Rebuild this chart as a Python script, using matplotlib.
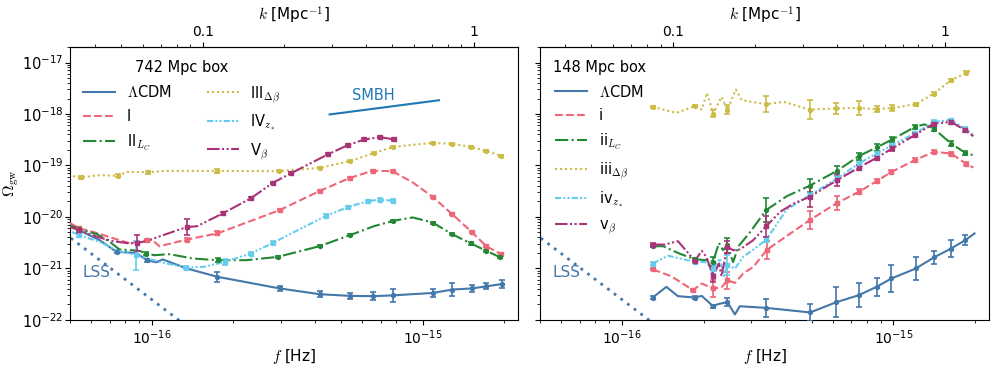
import numpy as np
import matplotlib
matplotlib.use('Agg')
import matplotlib.pyplot as plt
from matplotlib import ticker

plt.rcParams['mathtext.fontset'] = 'cm'
plt.rcParams['font.family'] = ['DejaVu Sans']

nan = np.nan

# ---------------- 742 Mpc box (left) ----------------
L_lcdm_f = [5.0e-17, 5.42e-17, 6.43e-17, 7.43e-17, 8.8e-17, 9.6e-17, 1.04e-16, 1.10e-16, 1.35e-16,
            1.75e-16, 2.97e-16, 4.17e-16, 5.38e-16, 6.54e-16, 7.75e-16, 1.09e-15, 1.29e-15, 1.52e-15,
            1.72e-15, 1.97e-15]
L_lcdm_om = [6.9e-21, 5.5e-21, 3.55e-21, 2.1e-21, 2.0e-21, 1.45e-21, 1.32e-21, 1.5e-21, 1.0e-21,
             6.9e-22, 4.1e-22, 3.17e-22, 2.94e-22, 2.9e-22, 3.0e-22, 3.35e-22, 3.9e-22, 4.1e-22,
             4.5e-22, 5.0e-22]
L_lcdm_err = [nan, 0.03, nan, 0.03, nan, 0.03, nan, nan, nan,
              0.1, 0.05, 0.06, 0.06, 0.08, 0.12, 0.08, 0.12, 0.06, 0.06, 0.08]

L_I_f = [5.0e-17, 5.42e-17, 6.32e-17, 7.18e-17, 8.3e-17, 9.6e-17, 1.01e-16, 1.07e-16, 1.35e-16,
         1.75e-16, 2.97e-16, 4.17e-16, 5.38e-16, 6.54e-16, 7.75e-16, 9.2e-16, 1.09e-15, 1.29e-15,
         1.52e-15, 1.72e-15, 1.95e-15]
L_I_om = [7.6e-21, 6.0e-21, 4.85e-21, 3.9e-21, 3.1e-21, 3.55e-21, 3.5e-21, 2.7e-21, 3.65e-21,
          4.8e-21, 1.36e-20, 3.2e-20, 5.7e-20, 7.9e-20, 7.75e-20, 4.7e-20, 2.46e-20, 1.12e-20,
          5.1e-21, 2.7e-21, 1.9e-21]
L_I_err = [nan, 0.03, nan, nan, nan, 0.03, nan, nan, 0.03,
           0.04, 0.02, 0.02, 0.02, 0.02, 0.02, nan, 0.02, 0.02, 0.02, 0.02, 0.02]

L_II_f = [5.0e-17, 5.42e-17, 6.32e-17, 7.0e-17, 7.62e-17, 8.42e-17, 9.04e-17, 9.56e-17, 1.026e-16,
          1.165e-16, 1.42e-16, 1.76e-16, 2.24e-16, 2.92e-16, 4.17e-16, 5.38e-16, 6.6e-16, 7.78e-16,
          9.2e-16, 1.09e-15, 1.29e-15, 1.51e-15, 1.72e-15, 1.94e-15]
L_II_om = [6.9e-21, 5.8e-21, 4.6e-21, 3.3e-21, 2.34e-21, 2.27e-21, 2.2e-21, 1.95e-21, 1.81e-21,
           1.9e-21, 1.56e-21, 1.45e-21, 1.45e-21, 1.68e-21, 2.71e-21, 4.4e-21, 6.6e-21, 8.4e-21,
           9.8e-21, 7.8e-21, 4.6e-21, 3.06e-21, 2.2e-21, 1.64e-21]
L_II_err = [nan, 0.02, nan, nan, nan, nan, nan, 0.03, nan,
            nan, nan, 0.04, nan, 0.02, 0.02, 0.02, nan, 0.02, nan, 0.02, 0.02, 0.02, 0.02, 0.02]

L_III_f = [5.13e-17, 5.5e-17, 6.43e-17, 7.55e-17, 8.07e-17, 9.7e-17, 1.13e-16, 1.74e-16, 2.95e-16,
           4.17e-16, 5.38e-16, 6.6e-16, 7.78e-16, 1.09e-15, 1.29e-15, 1.51e-15, 1.72e-15, 1.95e-15]
L_III_om = [6.2e-20, 5.85e-20, 6.5e-20, 6.3e-20, 7.5e-20, 7.4e-20, 7.85e-20, 7.85e-20, 7.75e-20,
            9.0e-20, 1.21e-19, 1.73e-19, 2.3e-19, 2.75e-19, 2.63e-19, 2.3e-19, 1.92e-19, 1.54e-19]
L_III_err = [nan, 0.02, nan, 0.03, nan, 0.03, nan, 0.04, 0.02,
             0.02, 0.02, 0.02, 0.02, 0.02, 0.02, 0.02, 0.02, 0.02]

L_IV_f = [5.1e-17, 5.42e-17, 6.43e-17, 7.4e-17, 8.78e-17, 9.56e-17, 1.07e-16, 1.34e-16, 1.55e-16,
          1.86e-16, 2.32e-16, 2.81e-16, 3.28e-16, 4.42e-16, 5.3e-16, 6.27e-16, 6.94e-16, 7.8e-16]
L_IV_om = [5.1e-21, 4.4e-21, 3.3e-21, 2.27e-21, 1.81e-21, 1.6e-21, 1.34e-21, 1.04e-21, 1.07e-21,
           1.34e-21, 1.95e-21, 3.14e-21, 4.8e-21, 1.06e-20, 1.55e-20, 2.03e-20, 2.17e-20, 2.07e-20]
L_IV_err = [nan, 0.03, nan, nan, 0.28, nan, nan, 0.03, nan,
            0.06, 0.03, 0.03, nan, 0.03, 0.03, 0.03, 0.03, 0.03]

L_V_f = [5.0e-17, 5.42e-17, 6.32e-17, 7.18e-17, 8.3e-17, 8.8e-17, 9.6e-17, 1.07e-16, 1.35e-16,
         1.47e-16, 1.83e-16, 2.33e-16, 2.8e-16, 3.28e-16, 4.47e-16, 5.3e-16, 6.1e-16, 6.98e-16, 7.88e-16]
L_V_om = [6.4e-21, 5.5e-21, 4.1e-21, 3.4e-21, 3.06e-21, 3.14e-21, 3.4e-21, 4.2e-21, 6.4e-21,
          6.6e-21, 1.17e-20, 2.32e-20, 4.6e-20, 7.1e-20, 1.64e-19, 2.48e-19, 3.2e-19, 3.55e-19, 3.2e-19]
L_V_err = [nan, 0.06, nan, nan, nan, 0.15, nan, nan, 0.15,
           nan, 0.03, 0.03, 0.02, 0.02, 0.02, 0.02, 0.02, 0.02, 0.02]

# ---------------- 148 Mpc box (right) ----------------
R_lcdm_f = [1.30e-16, 1.46e-16, 1.61e-16, 1.86e-16, 1.97e-16, 2.17e-16, 2.26e-16, 2.45e-16, 2.61e-16,
            2.72e-16, 3.4e-16, 4.94e-16, 5.38e-16, 6.17e-16, 7.46e-16, 8.67e-16, 9.84e-16, 1.21e-15,
            1.41e-15, 1.63e-15, 1.84e-15, 1.99e-15]
R_lcdm_om = [2.73e-22, 4.4e-22, 2.9e-22, 2.73e-22, 2.94e-22, 1.85e-22, 2.03e-22, 2.22e-22, 1.28e-22,
             1.85e-22, 1.72e-22, 1.4e-22, 1.67e-22, 2.22e-22, 3.03e-22, 4.4e-22, 6.4e-22, 1.0e-21,
             1.64e-21, 2.44e-21, 3.55e-21, 4.8e-21]
R_lcdm_err = [0.02, nan, nan, 0.02, nan, 0.03, nan, 0.08, nan,
              nan, 0.18, 0.16, nan, 0.29, 0.23, 0.17, 0.27, 0.22, 0.13, 0.17, 0.1, nan]

R_i_f = [1.30e-16, 1.52e-16, 1.83e-16, 1.97e-16, 2.17e-16, 2.33e-16, 2.45e-16, 2.61e-16, 2.8e-16,
         3.05e-16, 3.42e-16, 4.92e-16, 6.21e-16, 7.46e-16, 8.67e-16, 9.84e-16, 1.2e-15, 1.41e-15,
         1.63e-15, 1.85e-15, 1.97e-15]
R_i_om = [9.6e-22, 7.1e-22, 3.8e-22, 5.1e-22, 4.1e-22, 4.3e-22, 5.9e-22, 5.25e-22, 8.0e-22,
          1.07e-21, 2.3e-21, 8.7e-21, 1.88e-20, 3.07e-20, 4.95e-20, 7.5e-20, 1.27e-19, 1.84e-19,
          1.71e-19, 1.09e-19, 9.1e-20]
R_i_err = [0.02, nan, 0.02, nan, 0.16, nan, 0.16, nan, nan,
           nan, 0.18, 0.18, 0.13, 0.05, 0.04, 0.03, 0.04, 0.03, 0.03, 0.03, nan]

R_ii_f = [1.30e-16, 1.42e-16, 1.63e-16, 1.86e-16, 2.05e-16, 2.17e-16, 2.28e-16, 2.36e-16, 2.45e-16,
          2.57e-16, 2.69e-16, 2.97e-16, 3.4e-16, 4.05e-16, 4.92e-16, 6.21e-16, 7.46e-16, 8.67e-16,
          9.9e-16, 1.2e-15, 1.3e-15, 1.41e-15, 1.63e-15, 1.84e-15, 1.97e-15]
R_ii_om = [2.71e-21, 2.71e-21, 1.95e-21, 1.51e-21, 1.45e-21, 1.36e-21, 3.14e-21, 2.27e-21, 2.83e-21,
           1.33e-21, 2.71e-21, 5.1e-21, 1.36e-20, 2.53e-20, 4.05e-20, 7.9e-20, 1.52e-19, 2.24e-19,
           3.2e-19, 5.6e-19, 6.3e-19, 5.2e-19, 2.67e-19, 1.76e-19, 1.58e-19]
R_ii_err = [0.02, nan, nan, 0.02, nan, 0.08, nan, nan, 0.15,
            nan, nan, nan, 0.23, nan, 0.13, 0.1, 0.07, 0.06, 0.05, 0.04, nan, 0.04, 0.04, 0.04, nan]

R_iii_f = [1.30e-16, 1.59e-16, 1.86e-16, 1.97e-16, 2.06e-16, 2.17e-16, 2.33e-16, 2.45e-16, 2.63e-16,
           2.77e-16, 3.4e-16, 3.94e-16, 4.92e-16, 6.17e-16, 7.46e-16, 8.67e-16, 9.9e-16, 1.21e-15,
           1.41e-15, 1.63e-15, 1.85e-15, 1.93e-15]
R_iii_om = [1.37e-18, 1.05e-18, 1.42e-18, 1.22e-18, 2.57e-18, 1.02e-18, 2.15e-18, 1.22e-18, 2.99e-18,
            1.85e-18, 1.55e-18, 1.72e-18, 1.22e-18, 1.28e-18, 1.31e-18, 1.24e-18, 1.31e-18, 1.55e-18,
            2.5e-18, 4.5e-18, 6.3e-18, 7.1e-18]
R_iii_err = [0.02, nan, 0.02, nan, nan, 0.06, nan, 0.08, nan,
             nan, 0.16, nan, 0.19, 0.1, 0.13, 0.06, 0.06, 0.03, 0.03, 0.03, 0.03, nan]

R_iv_f = [1.30e-16, 1.48e-16, 1.86e-16, 2.02e-16, 2.17e-16, 2.3e-16, 2.38e-16, 2.45e-16, 2.61e-16,
          2.8e-16, 3.1e-16, 3.4e-16, 4.05e-16, 4.92e-16, 6.21e-16, 7.46e-16, 8.67e-16, 9.9e-16,
          1.2e-15, 1.41e-15, 1.63e-15, 1.84e-15, 1.97e-15]
R_iv_om = [1.25e-21, 1.77e-21, 1.34e-21, 1.34e-21, 9.7e-22, 1.56e-21, 7.1e-22, 1.16e-21, 1.0e-21,
           1.68e-21, 2.48e-21, 3.6e-21, 1.4e-20, 2.65e-20, 5.6e-20, 1.09e-19, 1.71e-19, 2.48e-19,
           4.2e-19, 7.0e-19, 7.6e-19, 5.2e-19, 3.9e-19]
R_iv_err = [0.02, nan, 0.02, nan, 0.1, nan, nan, 0.2, nan,
            nan, nan, 0.05, nan, 0.05, 0.04, 0.03, 0.03, 0.03, 0.03, 0.03, 0.03, 0.03, nan]

R_v_f = [1.30e-16, 1.44e-16, 1.61e-16, 1.86e-16, 1.97e-16, 2.05e-16, 2.17e-16, 2.28e-16, 2.33e-16,
         2.45e-16, 2.57e-16, 2.72e-16, 3.05e-16, 3.4e-16, 3.83e-16, 4.3e-16, 4.92e-16, 6.21e-16,
         7.46e-16, 8.67e-16, 9.9e-16, 1.2e-15, 1.41e-15, 1.63e-15, 1.84e-15, 1.97e-15]
R_v_om = [2.92e-21, 2.92e-21, 3.39e-21, 1.41e-21, 2.2e-21, 1.68e-21, 7.1e-22, 1.25e-21, 7.1e-22,
          2.63e-21, 2.27e-21, 2.34e-21, 3.55e-21, 6.6e-21, 1.26e-20, 1.83e-20, 2.46e-20, 5.2e-20,
          9.1e-20, 1.41e-19, 2.14e-19, 3.9e-19, 6.5e-19, 7.0e-19, 4.85e-19, 3.7e-19]
R_v_err = [0.02, nan, nan, 0.02, nan, nan, 0.12, nan, nan,
           0.12, nan, nan, nan, 0.2, nan, nan, 0.2, 0.12, 0.05, 0.04, 0.04, 0.04, 0.04, 0.04, 0.04, nan]

# reference lines
lss_f = [4.5e-17, 1.3e-16]
lss_om = [6.1e-21, 8.8e-23]
smbh_f = [4.54e-16, 1.15e-15]
smbh_om = [9.8e-19, 1.85e-18]

left_labels = [r'$\Lambda$CDM', 'I', r'II$_{L_C}$', r'III$_{\Delta\beta}$', r'IV$_{z_*}$', r'V$_\beta$']
right_labels = [r'$\Lambda$CDM', 'i', r'ii$_{L_C}$', r'iii$_{\Delta\beta}$', r'iv$_{z_*}$', r'v$_\beta$']

colors = ['#4477AA', '#EE6677', '#228833', '#CCBB44', '#66CCEE', '#AA3377']
styles = ['-', (0, (3.7, 1.6)), (0, (6.4, 1.6, 1, 1.6)), (0, (1, 1.4)),
          (0, (3, 1, 1, 1, 1, 1)), (0, (6, 1.2, 1, 1.2, 1, 1.2))]
markers = ['o', 's', 'o', 'o', 's', 's']

left_data = [(L_lcdm_f, L_lcdm_om, L_lcdm_err), (L_I_f, L_I_om, L_I_err), (L_II_f, L_II_om, L_II_err),
             (L_III_f, L_III_om, L_III_err), (L_IV_f, L_IV_om, L_IV_err), (L_V_f, L_V_om, L_V_err)]
right_data = [(R_lcdm_f, R_lcdm_om, R_lcdm_err), (R_i_f, R_i_om, R_i_err), (R_ii_f, R_ii_om, R_ii_err),
              (R_iii_f, R_iii_om, R_iii_err), (R_iv_f, R_iv_om, R_iv_err), (R_v_f, R_v_om, R_v_err)]

fig = plt.figure(figsize=(9.97, 3.71), dpi=100)
axL = fig.add_axes([0.0702, 0.1375, 0.4493, 0.7358])
axR = fig.add_axes([0.5416, 0.1375, 0.4504, 0.7358])

MPC_OVER_C = 2 * np.pi * 3.0857e22 / 2.9979e8


def f2k(f):
    return f * MPC_OVER_C


def k2f(k):
    return k / MPC_OVER_C


def draw(ax, f, om, err, color, ls, marker, label):
    f = np.asarray(f, float)
    om = np.asarray(om, float)
    err = np.asarray(err, float)
    ax.plot(f, om, color=color, ls=ls, lw=1.5, label=label, zorder=3)
    m = ~np.isnan(err)
    lo = om[m] * (1 - 10 ** (-err[m]))
    hi = om[m] * (10 ** err[m] - 1)
    ax.errorbar(f[m], om[m], yerr=[lo, hi], fmt=marker, ms=2.8, color=color,
                ecolor=color, elinewidth=1.2, capsize=2, capthick=1.2, zorder=3)


for ax, data, labels, title in [(axL, left_data, left_labels, '742 Mpc box'),
                                (axR, right_data, right_labels, '148 Mpc box')]:
    for (f, om, err), c, ls, mk, lab in zip(data, colors, styles, markers, labels):
        draw(ax, f, om, err, c, ls, mk, lab)
    ax.plot(lss_f, lss_om, color='#4477AA', ls=(0, (1, 2)), lw=2.0, zorder=2)
    ax.text(0.027, 0.175, 'LSS', transform=ax.transAxes, color='#4477AA', fontsize=11,
            ha='left', va='center')
    ax.set_xscale('log')
    ax.set_yscale('log')
    ax.set_xlim(5.0e-17, 2.25e-15)
    ax.set_ylim(1e-22, 2e-17)
    ax.set_xlabel(r'$f$ [Hz]', fontsize=11, labelpad=0)
    ax.tick_params(axis='x', which='major', labelsize=10, length=3.5, pad=2.5)
    ax.tick_params(axis='x', which='minor', length=2)
    ax.tick_params(axis='y', which='major', labelsize=10.5, length=3.5, pad=1)
    ax.tick_params(axis='y', which='minor', length=2)
    sec = ax.secondary_xaxis('top', functions=(f2k, k2f))
    sec.set_xlabel(r'$k$ [Mpc$^{-1}$]', fontsize=11, labelpad=3)
    sec.xaxis.set_major_formatter(ticker.FuncFormatter(lambda v, p: f'{v:g}'))
    sec.xaxis.set_minor_formatter(ticker.NullFormatter())
    sec.tick_params(which='major', labelsize=10, length=3.5, pad=2.5)
    sec.tick_params(which='minor', length=2)
    ncol = 2 if ax is axL else 1
    ax.legend(ncol=ncol, frameon=False, title=title, loc='upper left', fontsize=10.5,
              title_fontsize=10.5, handlelength=2.2, labelspacing=0.58, columnspacing=2.4)

axL.plot(smbh_f, smbh_om, color='#1f77b4', lw=1.5)
axL.text(6.6e-16, 2.3e-18, 'SMBH', color='#1f77b4', fontsize=10.5, ha='center', va='center')
axL.set_ylabel(r'$\Omega_{\rm gw}$', fontsize=11.5, labelpad=1)
axR.tick_params(axis='y', which='both', labelleft=False)

fig.savefig('out.png', dpi=100)
